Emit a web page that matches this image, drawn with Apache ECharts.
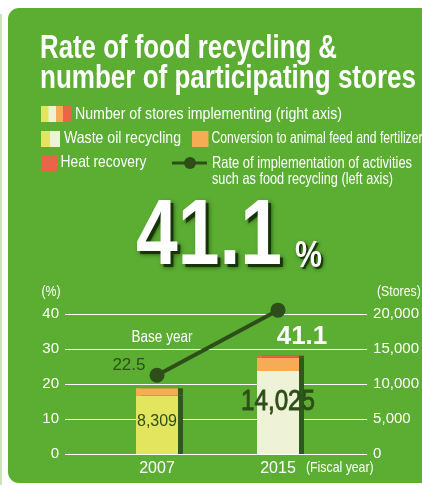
<!DOCTYPE html>
<html>
<head>
<meta charset="utf-8">
<script src="https://cdn.jsdelivr.net/npm/echarts@6/dist/echarts.min.js"></script>
<style>
  html, body { margin: 0; padding: 0; background: #ffffff; }
  #chart { width: 422px; height: 485px; }
</style>
</head>
<body>
<div id="chart"></div>
<script>
// Fiscal years shown on the category axis
const fiscalYears = ['2007', '2015'];
// Stores implementing each activity (right axis)
const wasteOilStores = [8309, 11860];
const feedFertilizerStores = [1100, 1880];
const heatRecoveryStores = [0, 285];
// Rate of implementation of food recycling activities, % (left axis)
const recyclingRate = [22.5, 41.1];
// Axis ranges: [min, max, step]
const rateAxisRange = [0, 40, 10];
const storeAxisRange = [0, 20000, 5000];

const SANS = "'Liberation Sans', Arial, sans-serif";
const PANEL = '#5CAE33';
const DARK = '#2E4E19';
const YELLOW = '#E4E55E';
const CREAM = '#EEF2D6';
const ORANGE = '#F5AC55';
const RED = '#EA6547';
const SIDE = '#2D5A1C';

const fmt = v => v.toLocaleString('en-US');
const storeTotals = fiscalYears.map((_, i) =>
  wasteOilStores[i] + feedFertilizerStores[i] + heatRecoveryStores[i]);

const chart = echarts.init(document.getElementById('chart'), null, { renderer: 'canvas' });

// Condensed-looking text: Liberation Sans squeezed horizontally
function txt(x, y, text, opts, squeeze) {
  return {
    type: 'text', x: x, y: y, z: 10,
    scaleX: squeeze == null ? 0.82 : squeeze,
    style: Object.assign({
      text: text, fill: '#ffffff', fontFamily: SANS, fontSize: 17,
      align: 'left', verticalAlign: 'middle'
    }, opts || {})
  };
}
// Squeeze a text run so it spans the given width
const measureCtx = document.createElement('canvas').getContext('2d');
function fitText(x, y, text, width, opts) {
  measureCtx.font = (opts.fontWeight || 'normal') + ' ' + opts.fontSize + 'px ' + SANS;
  return txt(x, y, text, opts, width / measureCtx.measureText(text).width);
}
// Headline text with a dark drop shadow drawn underneath
function shadowed(x, y, text, width, opts, off, blur) {
  const shade = fitText(x + off, y + off, text, width, Object.assign({}, opts, {
    fill: 'rgba(18,45,6,0.85)', textShadowColor: 'rgba(18,45,6,0.9)', textShadowBlur: blur
  }));
  shade.z = 9;
  return [shade, fitText(x, y, text, width, opts)];
}
function rect(x, y, w, h, color, extra) {
  return Object.assign({ type: 'rect', shape: { x: x, y: y, width: w, height: h }, style: { fill: color }, z: 5 }, extra || {});
}
const LEG = { fontSize: 16.5 };
const headline = fmt(recyclingRate[recyclingRate.length - 1]);

const graphics = [
  // page edge line and green panel
  rect(0, 14, 2, 471, '#C9E5B9', { z: -10 }),
  { type: 'rect', z: -10, shape: { x: 8, y: 8, width: 440, height: 475, r: 11 }, style: { fill: PANEL } },
  // title
  fitText(40, 49, 'Rate of food recycling &', 297, { fontSize: 33, fontWeight: 'bold' }),
  fitText(40, 79, 'number of participating stores', 376, { fontSize: 33, fontWeight: 'bold' }),
  // legend row 1
  rect(41, 106, 8, 16, YELLOW), rect(48.5, 106, 8, 16, CREAM),
  rect(56, 106, 7.5, 16, ORANGE), rect(63, 106, 8, 16, RED),
  fitText(75, 114, 'Number of stores implementing (right axis)', 267, LEG),
  // legend row 2
  rect(41, 131, 9.5, 16, YELLOW), rect(50, 131, 10, 16, CREAM),
  fitText(64, 138.5, 'Waste oil recycling', 117, LEG),
  rect(192, 131, 16.5, 16, ORANGE),
  fitText(211.5, 138.5, 'Conversion to animal feed and fertilizer', 211, LEG),
  // legend row 3
  rect(41, 155, 16, 16, RED),
  fitText(60.5, 162.5, 'Heat recovery', 86, LEG),
  { type: 'line', z: 5, shape: { x1: 172, y1: 163, x2: 207, y2: 163 }, style: { stroke: DARK, lineWidth: 3 } },
  { type: 'circle', z: 6, shape: { cx: 190, cy: 163, r: 6 }, style: { fill: DARK } },
  fitText(212, 163.5, 'Rate of implementation of activities', 200, LEG),
  fitText(212, 179.5, 'such as food recycling (left axis)', 181, LEG)
].concat(
  // headline figure
  shadowed(136, 238, headline, 146, { fontSize: 93, fontWeight: 'bold' }, 3, 5),
  shadowed(295, 257, '%', 27, { fontSize: 37, fontWeight: 'bold' }, 2, 4),
  [
    // axis units
    txt(51, 292, '(%)', { fontSize: 15, align: 'center' }),
    txt(377, 292, '(Stores)', { fontSize: 15 }),
    txt(306, 468, '(Fiscal year)', { fontSize: 15 }),
    txt(162, 337, 'Base year', { fontSize: 16.5, align: 'center' })
  ]
);

const barSide = { shadowColor: SIDE, shadowBlur: 0, shadowOffsetX: 5, shadowOffsetY: 0 };

const option = {
  backgroundColor: '#ffffff',
  animation: false,
  graphic: { elements: graphics },
  grid: [
    { left: 65, right: 49, top: 314, bottom: 31 },
    { left: 96.5, right: 83.5, top: 314, bottom: 31 }
  ],
  xAxis: [
    { gridIndex: 0, type: 'category', data: fiscalYears, show: false },
    {
      gridIndex: 1, type: 'category', data: fiscalYears,
      axisLine: { show: false }, axisTick: { show: false },
      axisLabel: { color: '#ffffff', fontFamily: SANS, fontSize: 16, margin: 7 }
    }
  ],
  yAxis: [
    {
      gridIndex: 0, type: 'value', position: 'left',
      min: rateAxisRange[0], max: rateAxisRange[1], interval: rateAxisRange[2],
      axisLine: { show: false }, axisTick: { show: false },
      axisLabel: { color: '#ffffff', fontFamily: SANS, fontSize: 15, margin: 6 },
      splitLine: { show: true, lineStyle: { color: '#ffffff', width: 1 } }
    },
    {
      gridIndex: 0, type: 'value', position: 'right',
      min: storeAxisRange[0], max: storeAxisRange[1], interval: storeAxisRange[2],
      axisLine: { show: false }, axisTick: { show: false },
      axisLabel: { color: '#ffffff', fontFamily: SANS, fontSize: 15, margin: 6, formatter: fmt },
      splitLine: { show: false }
    },
    { gridIndex: 1, type: 'value', min: rateAxisRange[0], max: rateAxisRange[1], show: false },
    { gridIndex: 1, type: 'value', min: storeAxisRange[0], max: storeAxisRange[1], show: false }
  ],
  series: [
    {
      name: 'Waste oil recycling', type: 'bar', stack: 'stores',
      xAxisIndex: 1, yAxisIndex: 3, barWidth: 42, z: 3,
      itemStyle: Object.assign({ color: p => (p.dataIndex === 0 ? YELLOW : CREAM) }, barSide),
      data: wasteOilStores.map((v, i) => ({
        value: v,
        label: { show: i === 0, position: 'inside', offset: [0, -3], formatter: () => fmt(v),
                 color: DARK, fontFamily: SANS, fontSize: 16 }
      }))
    },
    {
      name: 'Conversion to animal feed and fertilizer', type: 'bar', stack: 'stores',
      xAxisIndex: 1, yAxisIndex: 3, barWidth: 42, z: 3,
      itemStyle: Object.assign({ color: ORANGE }, barSide),
      data: feedFertilizerStores
    },
    {
      name: 'Heat recovery', type: 'bar', stack: 'stores',
      xAxisIndex: 1, yAxisIndex: 3, barWidth: 42, z: 3,
      itemStyle: Object.assign({ color: RED }, barSide),
      data: heatRecoveryStores
    },
    {
      name: 'Rate of implementation', type: 'line',
      xAxisIndex: 1, yAxisIndex: 2, z: 5, clip: false,
      symbol: 'circle', symbolSize: 15,
      lineStyle: { color: DARK, width: 4 },
      itemStyle: { color: DARK },
      data: recyclingRate.map((v, i) => ({
        value: v,
        label: i === 0
          ? { show: true, position: 'left', distance: 4, offset: [0, -10],
              color: DARK, fontFamily: SANS, fontSize: 17 }
          : { show: true, position: 'inside', offset: [24, 27],
              color: '#ffffff', fontFamily: SANS, fontWeight: 'bold', fontSize: 26 }
      }))
    }
  ]
};

chart.setOption(option);

// Store total for the latest year, written large inside its bar
const last = fiscalYears.length - 1;
const anchor = chart.convertToPixel({ xAxisIndex: 1, yAxisIndex: 3 },
  [fiscalYears[last], wasteOilStores[last] / 2]);
chart.setOption({
  graphic: {
    elements: graphics.concat([
      fitText(anchor[0], anchor[1] - 10, fmt(storeTotals[last]), 74,
              { fontSize: 29, fill: DARK, stroke: DARK, lineWidth: 0.9, align: 'center' })
    ])
  }
});
</script>
</body>
</html>
